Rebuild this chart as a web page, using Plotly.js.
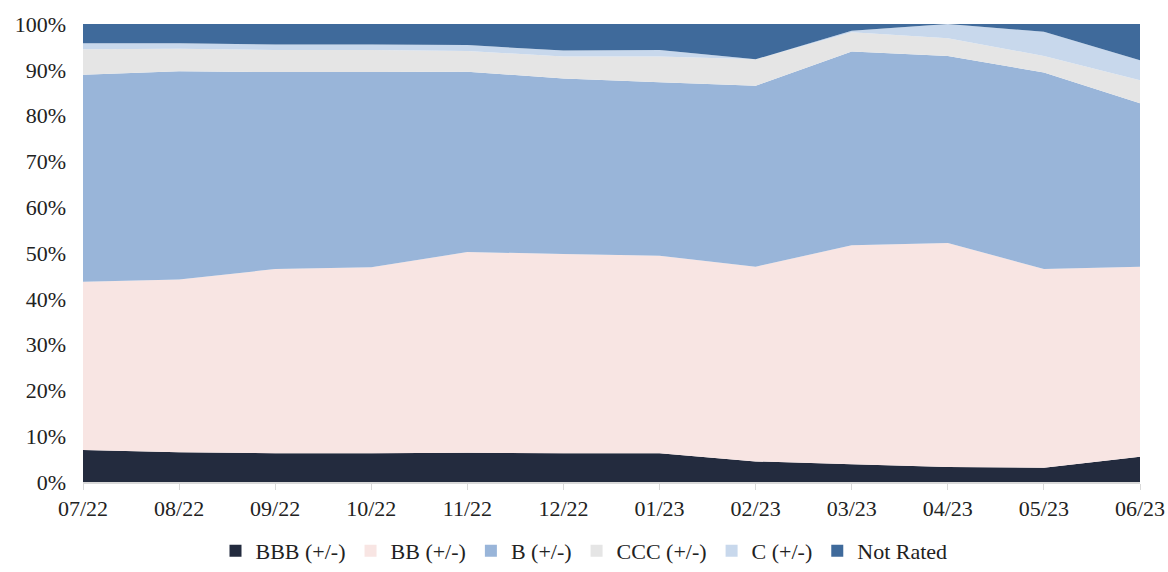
<!DOCTYPE html>
<html>
<head>
<meta charset="utf-8">
<script src="https://cdn.plot.ly/plotly-3.0.1.min.js"></script>
<style>html,body{margin:0;padding:0;background:#fff;}#chart{width:1168px;height:572px;}</style>
</head>
<body>
<div id="chart"></div>
<script>
const months = ["07/22","08/22","09/22","10/22","11/22","12/22","01/23","02/23","03/23","04/23","05/23","06/23"];
const bbb = [7.0,6.5,6.3,6.3,6.4,6.3,6.3,4.5,3.9,3.3,3.1,5.5];
const bb  = [36.7,37.7,40.2,40.6,43.8,43.5,43.1,42.5,47.8,48.9,43.4,41.5];
const b   = [45.2,45.5,43.0,42.6,39.4,38.3,37.9,39.5,42.3,40.8,42.9,35.7];
const ccc = [5.6,4.9,4.8,4.8,4.5,4.8,5.6,5.8,4.2,3.9,3.6,5.0];
const c   = [1.3,1.2,1.2,1.2,1.3,1.3,1.4,0.0,0.3,3.1,5.3,4.4];
const nr  = [4.2,4.2,4.5,4.5,4.6,5.8,5.7,7.7,1.5,0.0,1.7,7.9];
const seriesNames = ["BBB (+/-)","BB (+/-)","B (+/-)","CCC (+/-)","C (+/-)","Not Rated"];
const seriesColors = ["#232B3E","#F8E5E3","#99B5D9","#E5E5E5","#C8D8EC","#3F6A9B"];
const allSeries = [bbb,bb,b,ccc,c,nr];

const FAM = "Liberation Serif";

const areaTraces = allSeries.map((vals,i)=>({
  type:"scatter", mode:"none", x:months, y:vals.map(v=>v/100),
  name:seriesNames[i], stackgroup:"one", fillcolor:seriesColors[i],
  line:{width:0}, hoverinfo:"skip", showlegend:false
}));
// legend-only entries (square swatches)
const legendTraces = seriesNames.map((n,i)=>({
  type:"bar", x:[months[0]], y:[null], name:n,
  marker:{color:seriesColors[i], line:{width:0}}, showlegend:true, hoverinfo:"skip"
}));

const layout = {
  width:1168, height:572,
  margin:{l:83, r:28, t:24, b:90},
  paper_bgcolor:"#fff", plot_bgcolor:"#fff",
  font:{family:FAM, size:22, color:"#222"},
  showlegend:true,
  legend:{orientation:"h", x:0.5, xanchor:"center", xref:"container",
          y:0, yanchor:"bottom", yref:"container",
          font:{family:FAM, size:22, color:"#222"}, traceorder:"normal",
          itemwidth:30, borderwidth:0},
  xaxis:{type:"category", range:[0,11], showgrid:false, zeroline:false,
         showline:true, linecolor:"#d9d9d9", linewidth:1.5,
         ticks:"outside", tickcolor:"#d9d9d9", ticklen:6,
         tickfont:{family:FAM, size:22, color:"#222"}},
  yaxis:{range:[0,1], tickformat:".0%", dtick:0.1, showgrid:false, zeroline:false,
         showline:false, ticks:"", ticklabelstandoff:16,
         tickfont:{family:FAM, size:22, color:"#222"}},
  shapes:[{type:"line", xref:"paper", yref:"y", x0:0, x1:1, y0:1, y1:1,
           line:{color:"#d9d9d9", width:1.5}, layer:"below"}]
};
Plotly.newPlot("chart", areaTraces.concat(legendTraces), layout, {displayModeBar:false, staticPlot:true});
</script>
</body>
</html>
